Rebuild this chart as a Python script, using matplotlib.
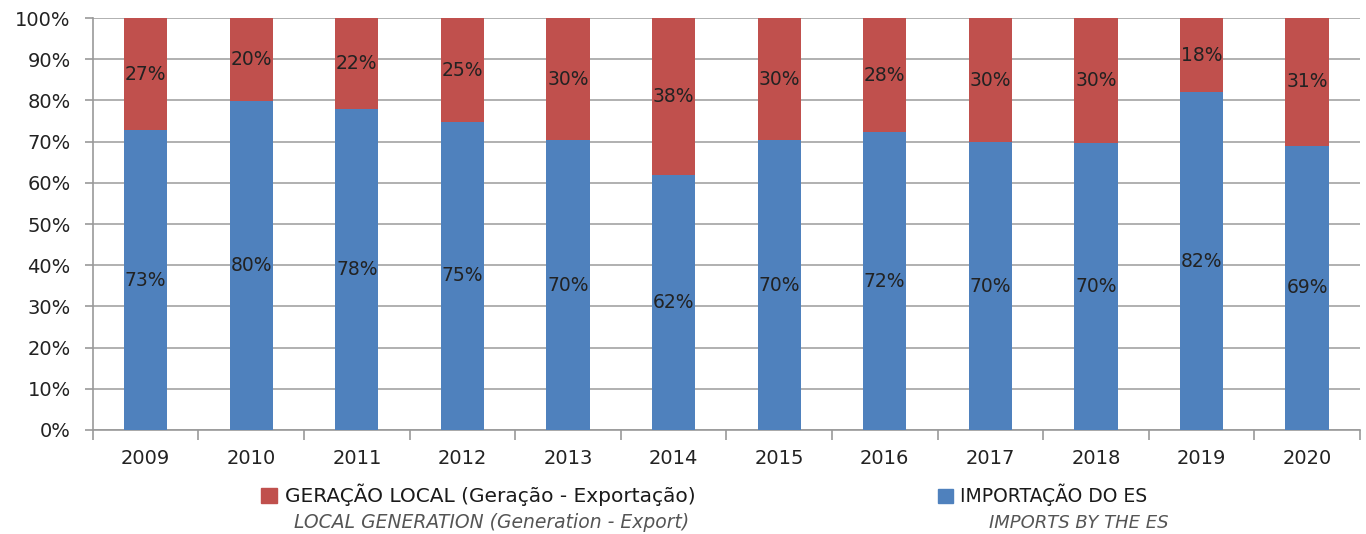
import matplotlib.pyplot as plt
import numpy as np
from matplotlib.patches import Patch

plt.rcParams['font.family'] = ['DejaVu Sans']

anos = ['2009', '2010', '2011', '2012', '2013', '2014',
        '2015', '2016', '2017', '2018', '2019', '2020']
importacao = [72.8, 79.9, 77.9, 74.8, 70.3, 62.0, 70.3, 72.3, 69.8, 69.6, 82.0, 69.0]
geracao_local = [27.2, 20.1, 22.1, 25.2, 29.7, 38.0, 29.7, 27.7, 30.2, 30.4, 18.0, 31.0]

azul = '#4f81bd'
vermelho = '#c0504d'

fig = plt.figure(figsize=(13.66, 5.34), dpi=100)
ax = fig.add_axes([0.068, 0.195, 0.9275, 0.771])

x = np.arange(len(anos))
ax.bar(x, importacao, width=0.41, color=azul, zorder=3)
ax.bar(x, geracao_local, width=0.41, bottom=importacao, color=vermelho, zorder=3)

for i in range(len(anos)):
    ax.text(x[i], importacao[i] / 2, f'{round(importacao[i])}%', ha='center', va='center',
            fontsize=13.5, color='#222222', zorder=4)
    ax.text(x[i], importacao[i] + geracao_local[i] / 2, f'{round(geracao_local[i])}%',
            ha='center', va='center', fontsize=13.5, color='#222222', zorder=4)

ax.set_xlim(-0.5, len(anos) - 0.5)
ax.set_ylim(0, 100)
ax.set_yticks(np.arange(0, 101, 10))
ax.set_yticklabels([f'{v}%' for v in range(0, 101, 10)])
ax.set_xticks(x)
ax.set_xticklabels(anos)
ax.set_xticks(np.arange(-0.5, len(anos), 1), minor=True)
ax.tick_params(axis='x', which='major', length=0, pad=14, labelsize=14, labelcolor='#222222')
ax.tick_params(axis='x', which='minor', length=7, color='#999999', width=1.2)
ax.tick_params(axis='y', length=6, color='#999999', width=1.2, labelsize=14,
               labelcolor='#222222', pad=10)
ax.grid(axis='y', color='#aaaaaa', linewidth=1.3, zorder=0)

for s in ['top', 'right']:
    ax.spines[s].set_visible(False)
for s in ['left', 'bottom']:
    ax.spines[s].set_color('#999999')
    ax.spines[s].set_linewidth(1.2)

fig.legend(handles=[Patch(color=vermelho)], labels=['GERAÇÃO LOCAL (Geração - Exportação)'],
           loc='center left', bbox_to_anchor=(0.178, 0.073), frameon=False,
           fontsize=14.5, handlelength=0.8, handleheight=0.8, handletextpad=0.4,
           labelcolor='#1a1a1a')
fig.legend(handles=[Patch(color=azul)], labels=['IMPORTAÇÃO DO ES'],
           loc='center left', bbox_to_anchor=(0.674, 0.073), frameon=False,
           fontsize=13.5, handlelength=0.8, handleheight=0.8, handletextpad=0.4,
           labelcolor='#1a1a1a')

fig.text(0.360, 0.021, 'LOCAL GENERATION (Generation - Export)', ha='center', va='center',
         fontsize=13.5, style='italic', color='#555555')
fig.text(0.79, 0.021, 'IMPORTS BY THE ES', ha='center', va='center',
         fontsize=13, style='italic', color='#555555')

fig.savefig('out.png', dpi=100)
